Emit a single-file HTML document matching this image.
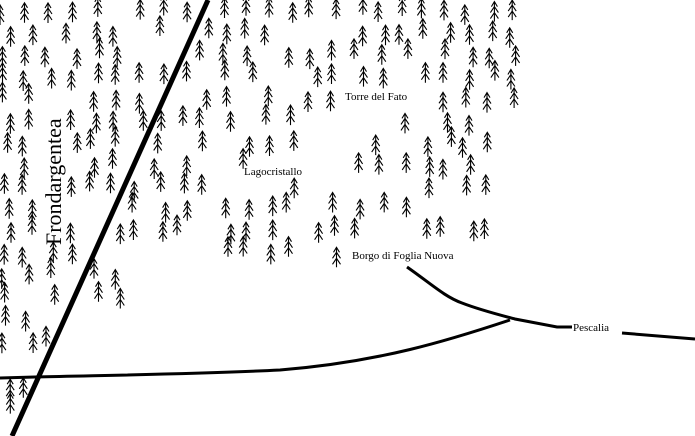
<!DOCTYPE html>
<html><head><meta charset="utf-8"><style>
html,body{margin:0;padding:0;background:#fff;width:695px;height:436px;overflow:hidden}
svg{display:block}
text{font-family:"Liberation Serif",serif;fill:#000}
</style></head><body>
<svg id="s" width="695" height="436" viewBox="0 0 695 436" xmlns="http://www.w3.org/2000/svg">
<defs>
<g id="t" fill="none" stroke="#000" stroke-width="1.1">
<path d="M0,-10V10M-3,-5L0,-10L3,-5M-4,1L0,-5L4,1M-4,7L0,1L4,7"/>
</g>
</defs>
<g id="trees"></g>
<path d="M208,0L12,436" stroke="#000" stroke-width="5" fill="none"/>
<path d="M0,378L35,377C120,375 200,374 280,370C380,362 450,340 510,320" stroke="#000" stroke-width="3" fill="none"/>
<path d="M407,267C430,283 445,297 462,303C480,310 500,315 515,319L557,327L572,327" stroke="#000" stroke-width="3" fill="none"/>
<path d="M622,333L695,339" stroke="#000" stroke-width="3" fill="none"/>
<text x="345" y="100" font-size="11">Torre del Fato</text>
<text x="244" y="175" font-size="11">Lagocristallo</text>
<text x="352" y="259" font-size="11">Borgo di Foglia Nuova</text>
<text x="573" y="331" font-size="11">Pescalia</text>
<text transform="translate(61,245) rotate(-90)" font-size="22">Frondargentea</text>
</svg>
<script>
var seed=7;function r(){seed=(seed*16807)%2147483647;return seed/2147483647;}
function lineX(y){return 208-y*0.454;}
function ok(x,y){
 var lx=lineX(y);
 if(x>36&&x<68&&y>80&&y<252)return false;
 if(x>335&&x<430&&y>85&&y<108)return false;
 if(x>235&&x<320&&y>160&&y<185)return false;
 if(x>340&&x<510&&y>245&&y<270)return false;
 if(Math.abs(x-lx)<7)return false;
 if(x<lx){
  if(y>395)return x<14;
  if(y>345)return x<30;
  return true;
 }
 if(y<100)return x<530;
 if(y<140)return (x<340) || (x>395&&x<500);
 if(y<255){
  if(x<205)return y<250;
  if(x>210&&x<310&&y>185)return true;
  if(x>315&&x<342&&y>185)return true;
  if(x>350&&x<390&&y>140&&y<232)return true;
  if(x>398&&x<492&&y<232)return true;
  if(x<330&&y<160&&x>240)return true;
  return false;
 }
 if(y<270&&x>315&&x<340)return true;
 if(y<310)return x<130;
 return false;
}
var g=document.getElementById('trees'),h='';
for(var y=10;y<436;y+=22){for(var x=6;x<700;x+=22){
 var xx=x+(r()-0.5)*12,yy=y+(r()-0.5)*12;
 if(r()<0.18)continue;
 if(ok(xx,yy))h+='<use href="#t" x="'+xx.toFixed(1)+'" y="'+yy.toFixed(1)+'"/>';
}}
g.innerHTML=h;
</script>
</body></html>
